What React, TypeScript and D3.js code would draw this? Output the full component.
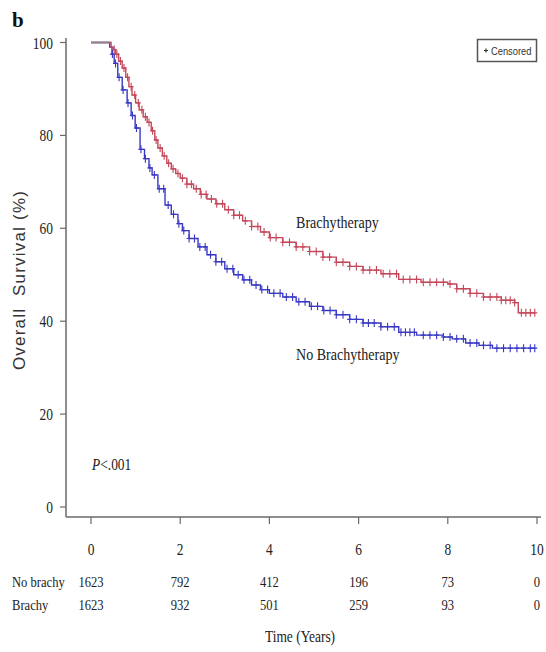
import React from "react";
import * as d3 from "d3";

// Kaplan-Meier steps: [years, survival %]
const brachySteps: [number, number][] = [
  [0, 100], [0.45, 99], [0.5, 98.5], [0.55, 97.5], [0.62, 96], [0.7, 94.5],
  [0.78, 92.5], [0.85, 90.5], [0.92, 88.7], [1.0, 87], [1.08, 85.5], [1.17, 84],
  [1.26, 82.8], [1.35, 81], [1.43, 79], [1.5, 77.3], [1.6, 75.6], [1.7, 74],
  [1.8, 72.8], [1.9, 71.8], [2.0, 70.8], [2.15, 69.5], [2.3, 68.5], [2.45, 67.3],
  [2.6, 66.3], [2.8, 65.3], [3.0, 64], [3.2, 62.8], [3.4, 61.6], [3.6, 60.4],
  [3.8, 59.2], [4.0, 58], [4.3, 57], [4.6, 56], [4.9, 55], [5.2, 53.8],
  [5.5, 52.7], [5.8, 51.8], [6.1, 51], [6.5, 50.2], [6.9, 49], [7.4, 48.4],
  [8.0, 48], [8.2, 47], [8.5, 46], [8.8, 45.2], [9.2, 44.5], [9.5, 44],
  [9.58, 41.8], [9.95, 41.8],
];

const noBrachySteps: [number, number][] = [
  [0, 100], [0.42, 99], [0.47, 97.5], [0.52, 95.5], [0.6, 92.5], [0.7, 89.8],
  [0.81, 87], [0.9, 84.3], [0.99, 81.6], [1.1, 77], [1.2, 75], [1.3, 73],
  [1.37, 71.5], [1.5, 68.5], [1.66, 65], [1.8, 63], [1.95, 61], [2.05, 59.5],
  [2.2, 57.8], [2.4, 56], [2.6, 54.3], [2.8, 52.8], [3.0, 51.3], [3.2, 50],
  [3.4, 48.9], [3.6, 47.8], [3.8, 46.8], [4.0, 46], [4.3, 45.2], [4.6, 44.2],
  [4.9, 43.2], [5.2, 42.3], [5.5, 41.4], [5.8, 40.4], [6.1, 39.6], [6.5, 38.8],
  [6.9, 37.6], [7.3, 37], [7.9, 36.6], [8.1, 36.2], [8.4, 35.3], [8.7, 34.8],
  [9.0, 34.2], [9.95, 34.2],
];

// censored observation times (years)
const brachyCensors = [
  0.52, 0.58, 0.66, 0.74, 0.82, 0.9, 0.98, 1.06, 1.14, 1.22, 1.3, 1.38, 1.46,
  1.55, 1.64, 1.74, 1.84, 1.95, 2.05, 2.15, 2.25, 2.36, 2.47, 2.58, 2.7, 2.82,
  2.95, 3.08, 3.2, 3.33, 3.46, 3.6, 3.74, 3.88, 4.02, 4.15, 4.3, 4.45, 4.6,
  4.75, 4.9, 5.05, 5.2, 5.35, 5.5, 5.65, 5.8, 5.95, 6.1, 6.25, 6.4, 6.55, 6.7,
  6.85, 7.0, 7.15, 7.3, 7.45, 7.6, 7.75, 7.9, 8.05, 8.2, 8.35, 8.5, 8.65, 8.8,
  8.95, 9.1, 9.2, 9.3, 9.4, 9.5, 9.65, 9.75, 9.85, 9.95,
];

const noBrachyCensors = [
  0.48, 0.55, 0.63, 0.72, 0.83, 0.93, 1.02, 1.12, 1.22, 1.32, 1.42, 1.53,
  1.63, 1.73, 1.85, 1.97, 2.08, 2.2, 2.32, 2.44, 2.56, 2.68, 2.8, 2.93, 3.05,
  3.18, 3.3, 3.43, 3.56, 3.7, 3.83, 3.96, 4.1, 4.24, 4.38, 4.52, 4.66, 4.8,
  4.94, 5.08, 5.22, 5.36, 5.5, 5.65, 5.8, 5.95, 6.1, 6.22, 6.35, 6.5, 6.65,
  6.8, 6.95, 7.05, 7.15, 7.25, 7.45, 7.6, 7.75, 7.9, 8.05, 8.2, 8.35, 8.5,
  8.65, 8.8, 8.95, 9.1, 9.25, 9.4, 9.55, 9.7, 9.85, 9.95,
];

const xTicks = [0, 2, 4, 6, 8, 10];
const yTicks = [0, 20, 40, 60, 80, 100];
const riskNoBrachy = ["1623", "792", "412", "196", "73", "0"];
const riskBrachy = ["1623", "932", "501", "259", "93", "0"];

const RED = "#c4475a";
const BLUE = "#3838c4";
const AXIS = "#6a6a6a";
const SERIF = "'Liberation Serif', 'DejaVu Serif', serif";
const SANS = "'Liberation Sans', Arial, sans-serif";

const x = d3.scaleLinear().domain([0, 10]).range([91, 537]);
const y = d3.scaleLinear().domain([0, 100]).range([507, 42.5]);

const stepLine = d3
  .line<[number, number]>()
  .x((d) => x(d[0]))
  .y((d) => y(d[1]))
  .curve(d3.curveStepAfter);

function survAt(steps: [number, number][], t: number) {
  let s = steps[0][1];
  for (const [tt, v] of steps) if (tt <= t) s = v;
  return s;
}

function Censors({ steps, times, color }: { steps: [number, number][]; times: number[]; color: string }) {
  return (
    <g stroke={color} strokeWidth={1.1}>
      {times.map((t, i) => {
        const cx = x(t);
        const cy = y(survAt(steps, t));
        return <path key={i} d={`M${cx - 2.5},${cy}H${cx + 2.5}M${cx},${cy - 4}V${cy + 4}`} />;
      })}
    </g>
  );
}

function Cond({ x: tx, y: ty, anchor = "start", size = 16, sx = 0.84, children }: any) {
  return (
    <text
      transform={`translate(${tx},${ty}) scale(${sx},1)`}
      textAnchor={anchor}
      fontFamily={SERIF}
      fontSize={size}
      fill="#222"
    >
      {children}
    </text>
  );
}

export default function App() {
  const flatEnd = Math.min(brachySteps[1][0], noBrachySteps[1][0]);
  return (
    <svg
      width={546}
      height={652}
      style={{ position: "absolute", left: 0, top: 0, background: "#fff" }}
    >
      <text x={12} y={27} fontFamily={SERIF} fontWeight="bold" fontSize={21} fill="#111">
        b
      </text>

      {/* axes */}
      <line x1={66} x2={66} y1={38} y2={517} stroke={AXIS} strokeWidth={1.5} />
      <line x1={66} x2={541} y1={517} y2={517} stroke={AXIS} strokeWidth={1.5} />
      {yTicks.map((t) => (
        <g key={t}>
          <line x1={60} x2={66} y1={y(t)} y2={y(t)} stroke={AXIS} strokeWidth={1.2} />
          <Cond x={53} y={y(t) + 6} anchor="end">
            {t}
          </Cond>
        </g>
      ))}
      {xTicks.map((t, i) => (
        <g key={t}>
          <line x1={x(t)} x2={x(t)} y1={517} y2={524} stroke={AXIS} strokeWidth={1.2} />
          <Cond x={x(t)} y={555} anchor="middle">
            {t}
          </Cond>
          <Cond x={x(t)} y={587} anchor="middle" size={15}>
            {riskNoBrachy[i]}
          </Cond>
          <Cond x={x(t)} y={610} anchor="middle" size={15}>
            {riskBrachy[i]}
          </Cond>
        </g>
      ))}
      <Cond x={12} y={587} size={15}>No brachy</Cond>
      <Cond x={12} y={610} size={15}>Brachy</Cond>
      <Cond x={300} y={642} anchor="middle" size={16}>Time (Years)</Cond>

      <text
        transform="translate(25,280) rotate(-90)"
        textAnchor="middle"
        fontFamily={SANS}
        fontSize={17}
        letterSpacing={1.2}
        fill="#333"
        style={{ whiteSpace: "pre" }}
      >
        {"Overall  Survival (%)"}
      </text>

      {/* curves */}
      <path d={stepLine(noBrachySteps) ?? ""} fill="none" stroke={BLUE} strokeWidth={1.4} />
      <path d={stepLine(brachySteps) ?? ""} fill="none" stroke={RED} strokeWidth={1.4} />
      <line x1={x(0)} x2={x(flatEnd)} y1={y(100)} y2={y(100)} stroke="#888" strokeWidth={1.5} />
      <Censors steps={noBrachySteps} times={noBrachyCensors} color={BLUE} />
      <Censors steps={brachySteps} times={brachyCensors} color={RED} />

      {/* annotations */}
      <Cond x={296} y={228} sx={0.88}>Brachytherapy</Cond>
      <Cond x={296} y={360} sx={0.88}>No Brachytherapy</Cond>
      <text transform="translate(92,470) scale(0.84,1)" fontFamily={SERIF} fontSize={16} fill="#222">
        <tspan fontStyle="italic">P</tspan>
        {"<.001"}
      </text>

      {/* legend */}
      <rect x={477.5} y={39.5} width={59} height={22} fill="#fff" stroke="#555" strokeWidth={1.5} />
      <path d="M484,50.5H488M486,48.5V52.5" stroke="#333" strokeWidth={1.2} />
      <text
        transform="translate(491,55) scale(0.85,1)"
        fontFamily={SANS}
        fontSize={11}
        fill="#333"
      >
        Censored
      </text>
    </svg>
  );
}
